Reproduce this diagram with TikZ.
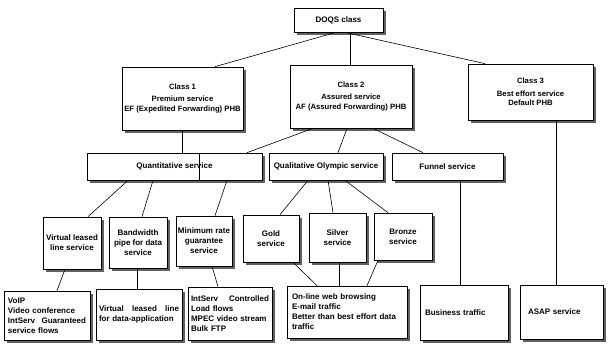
\documentclass[tikz,border=0pt]{standalone}
\usepackage{fontspec}
\setmainfont{Liberation Sans}
\setlength\parindent{0pt}
\newcommand\jline[1]{\leavevmode\hbox to\hsize{#1}}
\begin{document}
\begin{tikzpicture}[x=1pt,y=-1pt,
  box/.style={draw, line width=0.7pt, fill=white,
    font=\fontsize{8}{10}\selectfont\bfseries, align=center, inner sep=1pt},
  classbox/.style={box, font=\fontsize{7.7}{9.5}\selectfont\bfseries},
  leaf/.style={box, align=left, inner ysep=1pt},
  shadowline/.style={draw=black!62, line width=2.6pt, line cap=butt},
  link/.style={line width=0.6pt}]
\useasboundingbox (0,0) rectangle (609,345);
% level 0
\node[box, minimum width=89pt, minimum height=24pt] (doqs) at (338.5,20) {DOQS class};
% level 1
\node[classbox, minimum width=121pt, minimum height=63pt] (c1) at (182.5,98.5)
  {Class 1\\[3pt]Premium service\\EF (Expedited Forwarding) PHB};
\node[classbox, minimum width=122pt, minimum height=63pt] (c2) at (351,96.5)
  {Class 2\\[3pt]Assured service\\AF (Assured Forwarding) PHB};
\node[classbox, minimum width=125pt, minimum height=56pt] (c3) at (530.5,92)
  {Class 3\\[3pt]Best effort service\\Default PHB};
% level 2
\node[box, minimum width=175pt, minimum height=27pt] (quant) at (174.5,166.5) {Quantitative service};
\node[box, minimum width=114pt, minimum height=27pt] (qual) at (326,166.5) {Qualitative Olympic service};
\node[box, minimum width=111pt, minimum height=27pt] (funnel) at (447.5,166.5) {Funnel service};
\draw[link] ([xshift=24.5pt]quant.north) -- ([xshift=24.5pt]quant.south);
% level 3
\node[box, minimum width=58pt, minimum height=52pt] (vll) at (72,243) {Virtual leased\\line service};
\node[box, minimum width=58pt, minimum height=51pt] (bw) at (138,242.5) {Bandwidth\\pipe for data\\service};
\node[box, minimum width=56pt, minimum height=50pt] (mr) at (204,241) {Minimum rate\\guarantee\\service};
\node[box, minimum width=56pt, minimum height=47pt] (gold) at (271,238.5) {Gold\\service};
\node[box, minimum width=57pt, minimum height=49pt] (silver) at (337.5,237.5) {Silver\\service};
\node[box, minimum width=58pt, minimum height=47pt] (bronze) at (403,236.5) {Bronze\\service};
% level 4
\node[leaf, inner xsep=4pt, text width=78pt, minimum height=49pt] (voip) at (47,315.5)
  {VoIP\\Video conference\\\jline{IntServ\hfil Guaranteed}\\service flows};
\node[leaf, inner xsep=3pt, text width=80pt, minimum height=51pt] (vlda) at (139,314.5)
  {\jline{Virtual\hfil leased\hfil line}\\for data-application};
\node[leaf, inner xsep=3pt, text width=78pt, minimum height=53pt] (intc) at (230,313.5)
  {\jline{IntServ\hfil Controlled}\\Load flows\\MPEC video stream\\Bulk FTP};
\node[leaf, inner xsep=5pt, text width=110pt, minimum height=52pt] (online) at (347,312)
  {On-line web browsing\\E-mail traffic\\Better than best effort data\\traffic};
\node[leaf, inner xsep=5pt, text width=78pt, minimum height=55pt] (biz) at (464,312.5) {Business traffic};
\node[leaf, inner xsep=8pt, text width=67pt, minimum height=54pt] (asap) at (561.5,312) {ASAP service};
% shadows as thick strokes along the right and bottom edges
\foreach \n in {doqs,c1,c2,c3,quant,qual,funnel,vll,bw,mr,gold,silver,bronze,voip,vlda,intc,online,biz,asap}{
  \draw[shadowline] ([shift={(1.7pt,-3pt)}]\n.north east) -- ([shift={(1.7pt,-1.7pt)}]\n.south east)
    -- ([shift={(3pt,-1.7pt)}]\n.south west);
}
% connectors
\draw[link] ([xshift=-2.5pt]doqs.south) -- ([xshift=32.5pt]c1.north);
\draw[link] ([xshift=11.5pt]doqs.south) -- ([xshift=-1pt]c2.north);
\draw[link] ([xshift=6.5pt]doqs.south) -- ([xshift=-45.5pt]c3.north);
\draw[link] (c1.south) -- ([xshift=8pt]quant.north);
\draw[link] ([xshift=-38pt]c2.south) -- ([xshift=72.5pt]quant.north);
\draw[link] ([xshift=-4pt]c2.south) -- ([xshift=12pt]qual.north);
\draw[link] ([xshift=22pt]c2.south) -- ([xshift=-24.5pt]funnel.north);
\draw[link] ([xshift=25.5pt]c3.south) -- ([xshift=-5.5pt]asap.north);
\draw[link] ([xshift=-46.5pt]quant.south) -- ([xshift=16pt]vll.north);
\draw[link] ([xshift=-21.5pt]quant.south) -- ([xshift=4pt]bw.north);
\draw[link] ([xshift=52.5pt]quant.south) -- ([xshift=11pt]mr.north);
\draw[link] ([xshift=-18pt]qual.south) -- ([xshift=9pt]gold.north);
\draw[link] ([xshift=2pt]qual.south) -- ([xshift=-4.5pt]silver.north);
\draw[link] ([xshift=19pt]qual.south) -- ([xshift=-15pt]bronze.north);
\draw[link] ([xshift=12.5pt]funnel.south) -- ([xshift=-4pt]biz.north);
\draw[link] ([xshift=-7pt]vll.south) -- ([xshift=10pt]voip.north);
\draw[link] ([xshift=-1pt]bw.south) -- ([xshift=-2pt]vlda.north);
\draw[link] ([xshift=8pt]mr.south) -- ([xshift=-12pt]intc.north);
\draw[link] ([xshift=22pt]gold.south) -- ([xshift=-30pt]online.north);
\draw[link] ([xshift=1.5pt]silver.south) -- ([xshift=-8pt]online.north);
\draw[link] ([xshift=-25pt]bronze.south) -- ([xshift=20pt]online.north);
\end{tikzpicture}
\end{document}
